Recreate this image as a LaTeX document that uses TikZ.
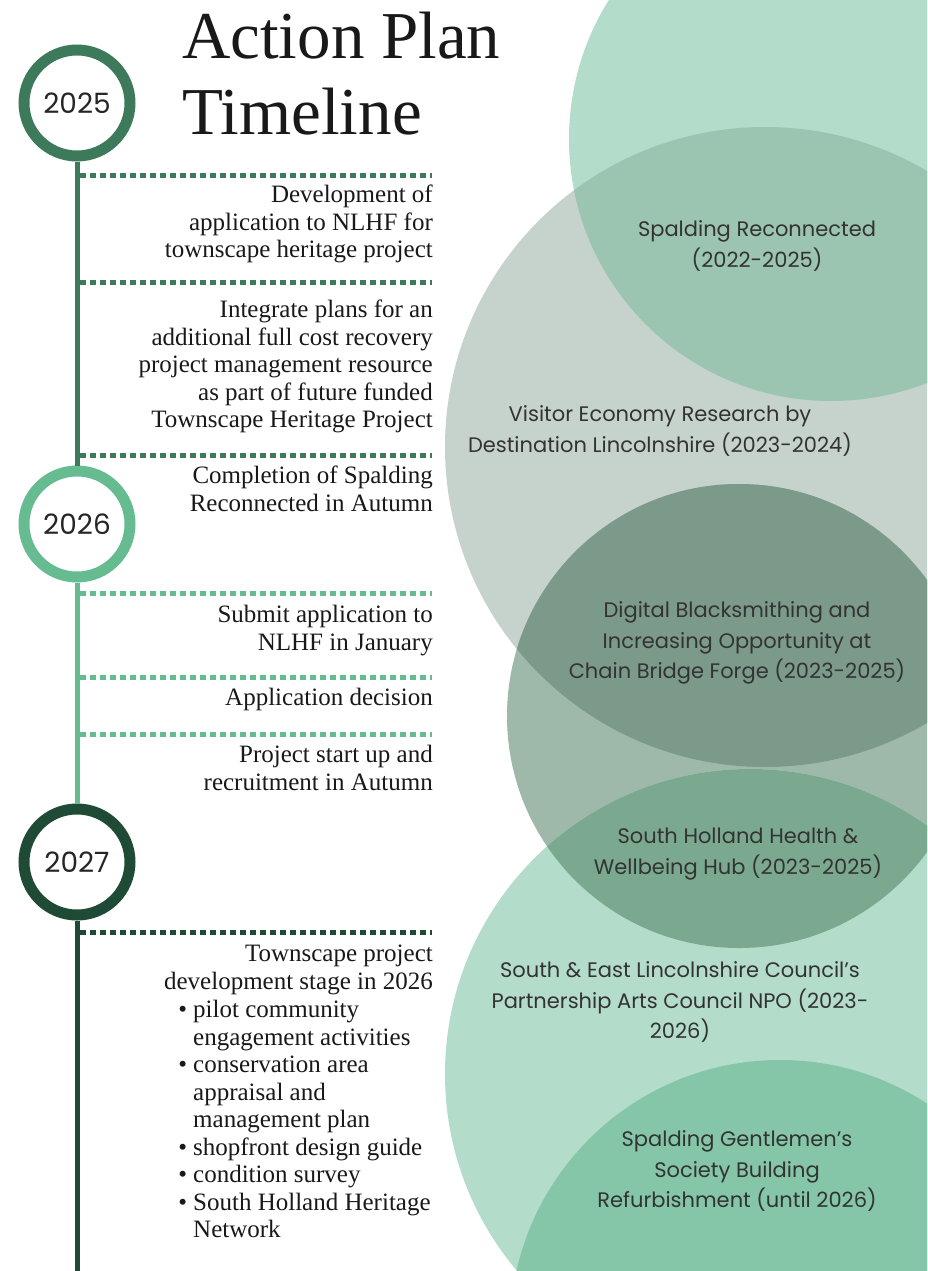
\documentclass[tikz,border=0pt]{standalone}
\usepackage{fontspec}
\setmainfont{Liberation Serif}
\newfontfamily\gothic{Poppins}
\definecolor{c25}{HTML}{3D7A5C}
\definecolor{c26}{HTML}{66BB91}
\definecolor{c27}{HTML}{1F4B36}
\definecolor{mint}{HTML}{B3DCCB}
\definecolor{greybg}{HTML}{C6D2CC}
\definecolor{mintgrey}{HTML}{9BC5B1}
\definecolor{sage}{HTML}{9EB9AA}
\definecolor{sagegrey}{HTML}{7B9A8A}
\definecolor{sagemint}{HTML}{7AA98F}
\definecolor{deepmint}{HTML}{85C6A8}
\tikzset{
  year/.style={circle, draw, line width=11pt, minimum size=106pt, inner sep=0pt,
    text=black!85, font=\gothic\fontsize{28}{28}\selectfont},
  stem/.style={line width=5pt},
  dotline/.style={line width=5pt, dash pattern=on 6pt off 4pt},
  entry/.style={anchor=north east, align=right, inner sep=0pt, text=black!90,
    font=\fontsize{25}{27.5}\selectfont},
  blob/.style={align=center, inner sep=0pt, text=black!80,
    font=\gothic\fontsize{21}{30.5}\selectfont}
}
\begin{document}
\begin{tikzpicture}[x=1pt,y=-1pt]
\clip (0,0) rectangle (927,1271);
\fill[white] (0,0) rectangle (927,1271);

% circles on the right
\fill[greybg] (765,447) circle (320pt);
\fill[mint] (831,139) circle (262pt);
\begin{scope}
  \clip (765,447) circle (320pt);
  \fill[mintgrey] (831,139) circle (262pt);
\end{scope}
\fill[sage] (739,716) circle (232pt);
\begin{scope}
  \clip (765,447) circle (320pt);
  \fill[sagegrey] (739,716) circle (232pt);
\end{scope}
\fill[mint] (750,1074) circle (305pt);
\begin{scope}
  \clip (739,716) circle (232pt);
  \fill[sagemint] (750,1074) circle (305pt);
\end{scope}
\fill[deepmint] (780,1330) circle (270pt);

\node[blob] (recon) at (757,246) {Spalding Reconnected\\(2022-2025)};
\node[blob] (visit) at (660,431) {Visitor Economy Research by\\Destination Lincolnshire (2023-2024)};
\node[blob] (forge) at (737,643) {Digital Blacksmithing and\\Increasing Opportunity at\\Chain Bridge Forge (2023-2025)};
\node[blob] (hub) at (738,854) {South Holland Health \&\\Wellbeing Hub (2023-2025)};
\node[blob] (npo) at (680,1002) {South \& East Lincolnshire Council’s\\Partnership Arts Council NPO (2023-\\2026)};
\node[blob] (gents) at (737,1171) {Spalding Gentlemen’s\\Society Building\\Refurbishment (until 2026)};

% title
\node[anchor=north west, align=left, inner sep=0pt, text=black!90,
  font=\fontsize{67}{76}\selectfont] (title) at (182,12) {Action Plan\\Timeline};

% timeline
\node[year, draw=c25] (y25) at (77,103) {2025};
\node[year, draw=c26] (y26) at (77,524) {2026};
\node[year, draw=c27] (y27) at (77,862) {2027};
\coordinate (bottom) at (77,1271);
\draw[stem, c25] (y25) -- (y26);
\draw[stem, c26] (y26) -- (y27);
\draw[stem, c27] (y27) -- (bottom);

\draw[dotline, c25] (80,175) -- (432,175);
\draw[dotline, c25] (80,282) -- (432,282);
\draw[dotline, c25] (80,455) -- (432,455);
\draw[dotline, c26] (80,593) -- (432,593);
\draw[dotline, c26] (80,677) -- (432,677);
\draw[dotline, c26] (80,734) -- (432,734);
\draw[dotline, c27] (80,932) -- (432,932);

\node[entry] (nlhf) at (433,185) {Development of\\application to NLHF for\\townscape heritage project};
\node[entry] (resource) at (433,300) {Integrate plans for an\\additional full cost recovery\\project management resource\\as part of future funded\\Townscape Heritage Project};
\node[entry] (complete) at (433,466) {Completion of Spalding\\Reconnected in Autumn};
\node[entry] (submit) at (433,605) {Submit application to\\NLHF in January};
\node[entry] (decision) at (433,688) {Application decision};
\node[entry] (startup) at (433,745) {Project start up and\\recruitment in Autumn};
\node[entry] (devstage) at (433,945) {Townscape project\\development stage in 2026};
\node[entry, anchor=north west, align=left] (tasks) at (193,1000)
  {\llap{\textbullet\hspace{6pt}}pilot community\\engagement activities\\
   \llap{\textbullet\hspace{6pt}}conservation area\\appraisal and\\management plan\\
   \llap{\textbullet\hspace{6pt}}shopfront design guide\\
   \llap{\textbullet\hspace{6pt}}condition survey\\
   \llap{\textbullet\hspace{6pt}}South Holland Heritage\\Network};
\end{tikzpicture}
\end{document}
